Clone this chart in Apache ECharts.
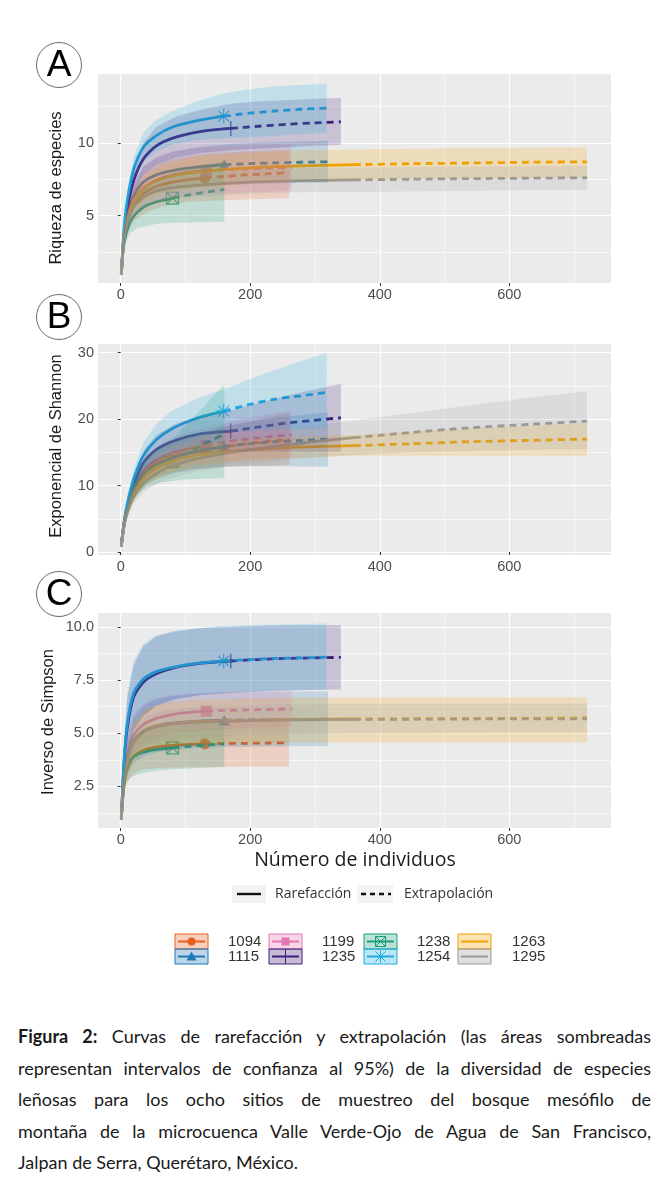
<!DOCTYPE html>
<html>
<head>
<meta charset="utf-8">
<script src="https://cdn.jsdelivr.net/npm/echarts/dist/echarts.min.js"></script>
<style>
html,body{margin:0;padding:0;background:#fff;}
#chart{position:absolute;left:0;top:0;width:669px;height:1000px;}
#caption{position:absolute;left:18px;top:1021px;width:633px;font-family:Lato,'Open Sans',sans-serif;font-size:18px;line-height:31.5px;color:#1a1a1a;}
#caption .j{text-align:justify;text-align-last:justify;white-space:nowrap;}
</style>
</head>
<body>
<div id="chart"></div>
<div id="caption">
<div class="j"><b>Figura 2:</b> Curvas de rarefacción y extrapolación (las áreas sombreadas</div>
<div class="j">representan intervalos de confianza al 95%) de la diversidad de especies</div>
<div class="j">leñosas para los ocho sitios de muestreo del bosque mesófilo de</div>
<div class="j">montaña de la microcuenca Valle Verde-Ojo de Agua de San Francisco,</div>
<div>Jalpan de Serra, Querétaro, México.</div>
</div>
<script>
// ---------------- data ----------------
const sites = ['1094','1115','1199','1235','1238','1254','1263','1295'];
const siteColors = ['#E8601C','#1F78B4','#E377B1','#3F1F7A','#1B9E77','#1FABE0','#F2A000','#999999'];
const observedN = [130,160,132,170,80,159,360,360];

// sample sizes (number of individuals) for each site
const x1094 = [1,5,10,20,35,55,80,105,130,160,195,230,260];
const x1115 = [1,5,10,20,35,55,80,120,160,200,240,280,320];
const x1199 = [1,5,10,20,35,55,80,105,132,165,198,231,264];
const x1235 = [1,5,10,20,35,55,85,125,170,212,255,297,340];
const x1238 = [1,4,8,15,25,40,60,80,100,120,140,160];
const x1254 = [1,5,10,20,35,55,80,120,159,199,238,278,318];
const x1263 = [1,5,10,20,40,70,120,200,280,360,450,540,630,720];
const x1295 = [1,5,10,20,40,70,120,200,280,360,450,540,630,720];

// A: Riqueza de especies
const rich1094 = [1,3.3,4.5,5.7,6.5,7.0,7.3,7.48,7.6,7.7,7.8,7.88,7.95];
const richLo1094 = [1,2.9,3.8,4.6,5.1,5.5,5.8,5.95,6.0,6.05,6.1,6.15,6.2];
const richHi1094 = [1,3.7,5.2,6.8,7.9,8.5,8.9,9.1,9.25,9.35,9.42,9.48,9.52];
const rich1115 = [1,3.4,4.8,6.3,7.3,7.8,8.1,8.35,8.5,8.58,8.63,8.67,8.7];
const richLo1115 = [1,3.0,4.2,5.4,6.2,6.6,6.8,7.0,7.1,7.15,7.2,7.25,7.25];
const richHi1115 = [1,3.8,5.4,7.2,8.4,9.0,9.4,9.7,9.9,10.0,10.05,10.1,10.15];
const rich1199 = [1,3.4,4.7,6.0,6.9,7.45,7.8,7.98,8.1,8.17,8.22,8.27,8.3];
const richLo1199 = [1,3.0,4.0,4.9,5.5,5.9,6.2,6.35,6.5,6.55,6.6,6.65,6.7];
const richHi1199 = [1,3.8,5.4,7.1,8.3,9.0,9.4,9.6,9.7,9.78,9.83,9.88,9.9];
const rich1235 = [1,3.7,5.4,7.4,8.9,9.8,10.4,10.8,11.0,11.15,11.28,11.38,11.45];
const richLo1235 = [1,3.3,4.8,6.5,7.8,8.5,9.0,9.3,9.5,9.6,9.7,9.8,9.85];
const richHi1235 = [1,4.1,6.0,8.3,10.0,11.1,11.8,12.3,12.7,12.85,12.95,13.05,13.1];
const rich1238 = [1,2.7,3.7,4.6,5.2,5.7,6.0,6.2,6.38,6.52,6.66,6.8];
const richLo1238 = [1,2.4,3.2,3.8,4.1,4.3,4.45,4.5,4.52,4.54,4.55,4.56];
const richHi1238 = [1,3.1,4.3,5.5,6.4,7.1,7.6,7.9,8.15,8.35,8.55,8.75];
const rich1254 = [1,4.0,6.0,8.2,9.7,10.5,11.1,11.55,11.85,12.05,12.2,12.32,12.4];
const richLo1254 = [1,3.6,5.4,7.4,8.7,9.4,9.9,10.2,10.3,10.4,10.5,10.6,10.7];
const richHi1254 = [1,4.4,6.6,9.0,10.7,11.6,12.2,12.9,13.4,13.7,13.9,14.0,14.1];
const rich1263 = [1,3.4,4.7,6.0,7.0,7.6,8.0,8.28,8.42,8.5,8.57,8.62,8.67,8.7];
const richLo1263 = [1,3.1,4.2,5.3,6.1,6.6,6.9,7.2,7.35,7.45,7.5,7.55,7.6,7.65];
const richHi1263 = [1,3.7,5.2,6.7,7.9,8.6,9.1,9.35,9.5,9.55,9.6,9.65,9.68,9.7];
const rich1295 = [1,3.3,4.5,5.6,6.4,6.85,7.1,7.3,7.4,7.45,7.5,7.54,7.57,7.6];
const richLo1295 = [1,3.0,4.1,5.0,5.7,6.1,6.3,6.5,6.6,6.62,6.66,6.7,6.74,6.78];
const richHi1295 = [1,3.6,4.9,6.2,7.1,7.6,7.9,8.1,8.25,8.3,8.35,8.38,8.4,8.42];

// B: Exponencial de Shannon
const shan1094 = [1,4.0,6.4,9.3,11.8,13.3,14.3,14.9,15.3,15.8,16.3,16.7,16.9];
const shanLo1094 = [1,3.6,5.7,8.1,10.1,11.3,12.0,12.4,12.6,12.8,12.9,13.0,13.1];
const shanHi1094 = [1,4.4,7.1,10.5,13.5,15.3,16.6,17.4,18.0,18.8,19.6,20.3,20.9];
const shan1115 = [1,4.0,6.3,9.1,11.5,13.0,14.1,15.2,15.9,16.3,16.6,16.8,17.0];
const shanLo1115 = [1,3.6,5.6,7.9,9.8,11.0,11.8,12.5,12.9,12.9,12.9,12.85,12.85];
const shanHi1115 = [1,4.4,7.0,10.3,13.2,15.0,16.4,17.9,18.9,19.6,20.2,20.6,21.0];
const shan1199 = [1,4.1,6.6,9.6,12.2,13.8,14.9,15.5,16.0,16.6,17.0,17.35,17.6];
const shanLo1199 = [1,3.7,5.9,8.4,10.5,11.8,12.6,13.0,13.3,13.6,13.9,14.1,14.2];
const shanHi1199 = [1,4.5,7.3,10.8,13.9,15.8,17.2,18.0,18.7,19.5,20.2,20.8,21.2];
const shan1235 = [1,4.2,6.8,10.1,13.4,15.4,16.8,17.8,18.2,18.8,19.4,19.8,20.2];
const shanLo1235 = [1,3.8,6.0,8.8,11.6,13.2,14.3,14.9,15.1,15.1,15.1,15.1,15.1];
const shanHi1235 = [1,4.6,7.6,11.4,15.2,17.6,19.3,20.6,21.3,22.4,23.5,24.4,25.3];
const shan1238 = [1,3.3,5.5,8.0,10.3,12.0,13.0,13.6,14.7,15.8,16.8,17.7];
const shanLo1238 = [1,3.0,4.9,6.9,8.6,9.8,10.4,10.7,10.9,11.0,11.05,11.1];
const shanHi1238 = [1,3.6,6.1,9.2,12.2,14.5,16.0,17.0,19.0,21.0,23.1,25.2];
const shan1254 = [1,4.3,7.2,11.0,14.5,16.9,18.6,20.2,21.2,22.2,23.0,23.5,24.0];
const shanLo1254 = [1,3.9,6.4,9.6,12.5,14.5,15.9,17.2,17.9,18.2,18.4,18.5,18.6];
const shanHi1254 = [1,4.7,8.0,12.4,16.5,19.3,21.3,23.2,24.5,26.0,27.4,28.7,30.0];
const shan1263 = [1,3.9,6.1,8.7,11.5,13.3,14.6,15.4,15.8,16.0,16.3,16.6,16.8,17.0];
const shanLo1263 = [1,3.6,5.5,7.7,10.2,11.8,13.0,13.8,14.2,14.5,14.5,14.5,14.5,14.5];
const shanHi1263 = [1,4.2,6.7,9.7,12.8,14.8,16.2,17.0,17.4,17.6,18.1,18.6,19.0,19.4];
const shan1295 = [1,3.8,5.8,8.3,10.8,12.6,14.1,15.4,16.4,17.2,18.0,18.7,19.2,19.7];
const shanLo1295 = [1,3.5,5.2,7.3,9.4,10.9,12.2,13.3,14.1,14.6,15.0,15.2,15.4,15.5];
const shanHi1295 = [1,4.1,6.4,9.3,12.2,14.3,16.0,17.5,18.7,19.8,20.9,22.1,23.2,24.2];

// C: Inverso de Simpson
const simp1094 = [1,2.5,3.3,3.9,4.2,4.35,4.43,4.47,4.5,4.52,4.53,4.54,4.55];
const simpLo1094 = [1,2.1,2.7,3.1,3.3,3.35,3.38,3.4,3.4,3.41,3.42,3.42,3.42];
const simpHi1094 = [1,2.9,4.0,4.8,5.2,5.4,5.5,5.55,5.6,5.62,5.64,5.65,5.66];
const simp1115 = [1,2.7,3.7,4.6,5.1,5.35,5.48,5.57,5.62,5.63,5.64,5.65,5.66];
const simpLo1115 = [1,2.3,3.0,3.6,3.9,4.1,4.2,4.3,4.35,4.37,4.38,4.39,4.4];
const simpHi1115 = [1,3.2,4.5,5.7,6.3,6.6,6.75,6.85,6.9,6.93,6.95,6.97,6.98];
const simp1199 = [1,2.8,3.9,4.9,5.4,5.7,5.88,5.98,6.04,6.08,6.1,6.12,6.14];
const simpLo1199 = [1,2.4,3.2,4.0,4.5,4.8,5.0,5.1,5.15,5.2,5.25,5.28,5.3];
const simpHi1199 = [1,3.3,4.8,5.9,6.4,6.65,6.8,6.87,6.92,6.95,6.97,6.98,7.0];
const simp1235 = [1,3.5,5.2,6.7,7.4,7.8,8.1,8.3,8.4,8.47,8.52,8.55,8.57];
const simpLo1235 = [1,2.6,3.8,5.1,5.8,6.3,6.6,6.8,6.9,6.95,7.0,7.03,7.06];
const simpHi1235 = [1,4.3,6.6,8.2,9.1,9.55,9.8,9.95,10.0,10.05,10.07,10.08,10.1];
const simp1238 = [1,2.4,3.2,3.75,4.0,4.15,4.25,4.31,4.37,4.42,4.46,4.5];
const simpLo1238 = [1,2.0,2.6,2.9,3.05,3.15,3.25,3.3,3.33,3.36,3.39,3.41];
const simpHi1238 = [1,2.8,3.9,4.6,5.0,5.2,5.3,5.38,5.45,5.5,5.55,5.6];
const simp1254 = [1,3.6,5.4,6.9,7.55,7.9,8.1,8.3,8.4,8.47,8.52,8.55,8.58];
const simpLo1254 = [1,2.7,3.9,5.2,5.9,6.3,6.6,6.8,6.9,6.95,7.0,7.03,7.06];
const simpHi1254 = [1,4.4,6.8,8.4,9.2,9.6,9.8,9.95,10.05,10.1,10.12,10.14,10.16];
const simp1263 = [1,2.7,3.7,4.6,5.2,5.42,5.55,5.62,5.65,5.67,5.68,5.69,5.7,5.72];
const simpLo1263 = [1,2.4,3.1,3.8,4.2,4.4,4.5,4.55,4.56,4.57,4.57,4.57,4.57,4.57];
const simpHi1263 = [1,3.0,4.3,5.5,6.2,6.45,6.58,6.64,6.67,6.68,6.69,6.7,6.7,6.7];
const simp1295 = [1,2.7,3.7,4.6,5.15,5.4,5.52,5.6,5.63,5.65,5.66,5.67,5.68,5.68];
const simpLo1295 = [1,2.5,3.3,4.1,4.5,4.7,4.8,4.9,4.95,4.98,5.0,5.01,5.02,5.02];
const simpHi1295 = [1,2.9,4.1,5.1,5.8,6.1,6.25,6.32,6.36,6.38,6.39,6.4,6.4,6.4];

// axis ticks
const xMajor = [0,200,400,600];
const xMinor = [100,300,500,700];
const yMajorA = [5,10], yMinorA = [2.5,7.5,12.5];
const yMajorB = [0,10,20,30], yMinorB = [5,15,25];
const yMajorC = [2.5,5,7.5,10], yMinorC = [1.25,3.75,6.25,8.75];
const panelTitles = ['Riqueza de especies','Exponencial de Shannon','Inverso de Simpson'];
const panelLetters = ['A','B','C'];
const xTitle = 'Número de individuos';
const lineTypeLabels = ['Rarefacción','Extrapolación'];

// ---------------- assemble ----------------
const xs = [x1094,x1115,x1199,x1235,x1238,x1254,x1263,x1295];
const panelData = [
  {mean:[rich1094,rich1115,rich1199,rich1235,rich1238,rich1254,rich1263,rich1295],
   lo:[richLo1094,richLo1115,richLo1199,richLo1235,richLo1238,richLo1254,richLo1263,richLo1295],
   hi:[richHi1094,richHi1115,richHi1199,richHi1235,richHi1238,richHi1254,richHi1263,richHi1295]},
  {mean:[shan1094,shan1115,shan1199,shan1235,shan1238,shan1254,shan1263,shan1295],
   lo:[shanLo1094,shanLo1115,shanLo1199,shanLo1235,shanLo1238,shanLo1254,shanLo1263,shanLo1295],
   hi:[shanHi1094,shanHi1115,shanHi1199,shanHi1235,shanHi1238,shanHi1254,shanHi1263,shanHi1295]},
  {mean:[simp1094,simp1115,simp1199,simp1235,simp1238,simp1254,simp1263,simp1295],
   lo:[simpLo1094,simpLo1115,simpLo1199,simpLo1235,simpLo1238,simpLo1254,simpLo1263,simpLo1295],
   hi:[simpHi1094,simpHi1115,simpHi1199,simpHi1235,simpHi1238,simpHi1254,simpHi1263,simpHi1295]}
];

const grids = [
  {left:98, top:74, width:513, height:209, ymin:0.35, ymax:14.75, major:yMajorA, minor:yMinorA, fmt:v=>String(v)},
  {left:98, top:344, width:513, height:211, ymin:-0.45, ymax:31.3, major:yMajorB, minor:yMinorB, fmt:v=>String(v)},
  {left:98, top:613, width:513, height:215, ymin:0.54, ymax:10.66, major:yMajorC, minor:yMinorC, fmt:v=>v.toFixed(1)}
];

const plusPath = 'path://M10,0L10,20M0,10L20,10';
const boxXPath = 'path://M0,0L20,0L20,20L0,20Z M0,0L20,20 M20,0L0,20';
const starPath = 'path://M10,0L10,20 M0,10L20,10 M3,3L17,17 M17,3L3,17';
const symbols = ['circle','triangle','rect',plusPath,boxXPath,starPath,'none','none'];
const symbolSizes = [11,11,11,15,12,15,0,0];

function rgba(hex, a) {
  const n = parseInt(hex.slice(1), 16);
  return 'rgba(' + (n >> 16 & 255) + ',' + (n >> 8 & 255) + ',' + (n & 255) + ',' + a + ')';
}

const FONT = "'Liberation Sans', Arial, sans-serif";
const xAxes = [], yAxes = [], gridOpts = [], series = [];

grids.forEach((g, gi) => {
  gridOpts.push({left:g.left, top:g.top, width:g.width, height:g.height, show:true,
    backgroundColor:'#ebebeb', borderWidth:0, containLabel:false, outerBoundsMode:'none'});
  xAxes.push({type:'value', gridIndex:gi, min:-35, max:757, position:'bottom',
    axisLine:{show:false},
    axisTick:{show:true, length:3, lineStyle:{color:'#333', width:1}, customValues:xMajor},
    axisLabel:{show:true, customValues:xMajor, color:'#4d4d4d', fontSize:14.5, fontFamily:FONT, margin:4},
    splitLine:{show:true, lineStyle:{color:'#ffffff', width:1.2}}, z:0});
  xAxes.push({type:'value', gridIndex:gi, min:-35, max:757, position:'top',
    axisLine:{show:false}, axisLabel:{show:false},
    axisTick:{show:false, customValues:xMinor},
    splitLine:{show:true, lineStyle:{color:'#ffffff', width:0.6}}, z:0});
  yAxes.push({type:'value', gridIndex:gi, min:g.ymin, max:g.ymax, position:'left',
    axisLine:{show:false},
    axisTick:{show:true, length:3, lineStyle:{color:'#333', width:1}, customValues:g.major},
    axisLabel:{show:true, customValues:g.major, formatter:g.fmt, color:'#4d4d4d', fontSize:14.5, fontFamily:FONT, margin:4},
    splitLine:{show:true, lineStyle:{color:'#ffffff', width:1.2}}, z:0});
  yAxes.push({type:'value', gridIndex:gi, min:g.ymin, max:g.ymax, position:'right',
    axisLine:{show:false}, axisLabel:{show:false},
    axisTick:{show:false, customValues:g.minor},
    splitLine:{show:true, lineStyle:{color:'#ffffff', width:0.6}}, z:0});

  const pd = panelData[gi];
  sites.forEach((s, si) => {
    const xv = xs[si], m = pd.mean[si], lo = pd.lo[si], hi = pd.hi[si];
    const k = xv.indexOf(observedN[si]);
    const col = siteColors[si];
    const axisIdx = {xAxisIndex:gi*2, yAxisIndex:gi*2};
    // confidence band
    series.push(Object.assign({
      type:'custom', name:s, z:4, silent:true,
      data: xv.map((x, j) => [x, lo[j], hi[j]]),
      encode:{x:0, y:[1,2]},
      renderItem: function (params, api) {
        if (params.dataIndexInside !== 0) return null;
        const n = params.dataInsideLength;
        const up = [], dn = [];
        for (let j = 0; j < n; j++) {
          const xx = api.value(0, j);
          up.push(api.coord([xx, api.value(2, j)]));
          dn.push(api.coord([xx, api.value(1, j)]));
        }
        return {type:'polygon', shape:{points: up.concat(dn.reverse())},
          style:{fill: rgba(col, 0.2), stroke:'none'}};
      }
    }, axisIdx));
    // rarefaction (solid)
    series.push(Object.assign({
      type:'line', name:s, z:3, silent:true, showSymbol:false, smooth:0.25,
      data: xv.slice(0, k + 1).map((x, j) => [x, m[j]]),
      lineStyle:{color:col, width:2.8, cap:'round'}
    }, axisIdx));
    // extrapolation (dashed)
    series.push(Object.assign({
      type:'line', name:s, z:3, silent:true, showSymbol:false, smooth:0.25,
      data: xv.slice(k).map((x, j) => [x, m[j + k]]),
      lineStyle:{color:col, width:2.8, type:[7,5]}
    }, axisIdx));
    // observed point
    if (symbols[si] !== 'none') {
      const isPath = symbols[si].indexOf('path://') === 0;
      series.push(Object.assign({
        type:'scatter', name:s, z:2, silent:true,
        symbol:symbols[si], symbolSize:symbolSizes[si],
        data:[[xv[k], m[k]]],
        itemStyle: isPath ? {color:'rgba(0,0,0,0)', borderColor:col, borderWidth:1.2} : {color:col}
      }, axisIdx));
    }
  });
});

// ---------------- decorations (titles, panel letters, legend) ----------------
const graphic = [];
const letterPos = [[59,65],[59,317],[59,594]];
letterPos.forEach((p, i) => {
  graphic.push({type:'circle', shape:{cx:p[0], cy:p[1], r:22.5}, style:{fill:'#fff', stroke:'#444', lineWidth:0.8}, z:10});
  graphic.push({type:'text', x:p[0], y:p[1]+1, z:11, style:{text:panelLetters[i], fontSize:37, fontFamily:FONT,
    fill:'#000', align:'center', verticalAlign:'middle', textAlign:'center', textVerticalAlign:'middle'}});
});
const titlePos = [[56,188],[56,446],[48,722]];
titlePos.forEach((p, i) => {
  graphic.push({type:'text', x:p[0], y:p[1], rotation:Math.PI/2, z:10,
    style:{text:panelTitles[i], fontSize:16.5, fontFamily:FONT, fill:'#1a1a1a',
      align:'center', verticalAlign:'middle', textAlign:'center', textVerticalAlign:'middle'}});
});
graphic.push({type:'text', x:355, y:860, z:10, style:{text:xTitle, fontSize:19.5, fontFamily:"'Open Sans', sans-serif",
  fill:'#1a1a1a', align:'center', verticalAlign:'middle', textAlign:'center', textVerticalAlign:'middle'}});

// line type legend
const LFONT = "'Open Sans', sans-serif";
graphic.push({type:'rect', shape:{x:232, y:885, width:34, height:18}, style:{fill:'#f2f2f2'}});
graphic.push({type:'line', shape:{x1:237, y1:894, x2:261, y2:894}, style:{stroke:'#111', lineWidth:2.4}});
graphic.push({type:'text', x:275, y:894, style:{text:lineTypeLabels[0], fontSize:14, fontFamily:LFONT, fill:'#333',
  verticalAlign:'middle', textVerticalAlign:'middle'}});
graphic.push({type:'rect', shape:{x:357, y:885, width:36, height:18}, style:{fill:'#f2f2f2'}});
graphic.push({type:'line', shape:{x1:361, y1:894, x2:391, y2:894}, style:{stroke:'#111', lineWidth:2.4, lineDash:[5,4]}});
graphic.push({type:'text', x:404, y:894, style:{text:lineTypeLabels[1], fontSize:14, fontFamily:LFONT, fill:'#333',
  verticalAlign:'middle', textVerticalAlign:'middle'}});

// site legend
const colX = [175, 269, 364, 458], textX = [228, 322, 417, 512], rowY = [934, 949];
sites.forEach((s, si) => {
  const c = Math.floor(si / 2), r = si % 2;
  const bx = colX[c], by = rowY[r], bw = 33, bh = 15;
  const col = siteColors[si];
  const cx = bx + bw / 2, cy = by + bh / 2;
  graphic.push({type:'rect', shape:{x:bx, y:by, width:bw, height:bh}, style:{fill:rgba(col, 0.3), stroke:col, lineWidth:1}});
  graphic.push({type:'line', shape:{x1:bx+3, y1:cy, x2:bx+bw-3, y2:cy}, style:{stroke:col, lineWidth:2}});
  const st = {stroke:col, lineWidth:1, fill:'none'};
  if (si === 0) graphic.push({type:'circle', shape:{cx:cx, cy:cy, r:4}, style:{fill:col}});
  if (si === 1) graphic.push({type:'polygon', shape:{points:[[cx, cy-5],[cx+5, cy+4],[cx-5, cy+4]]}, style:{fill:col}});
  if (si === 2) graphic.push({type:'rect', shape:{x:cx-4, y:cy-4, width:8, height:8}, style:{fill:col}});
  if (si === 3) graphic.push({type:'line', shape:{x1:cx, y1:by, x2:cx, y2:by+bh}, style:st});
  if (si === 4) {
    graphic.push({type:'rect', shape:{x:cx-5, y:cy-5, width:10, height:10}, style:st});
    graphic.push({type:'line', shape:{x1:cx-5, y1:cy-5, x2:cx+5, y2:cy+5}, style:st});
    graphic.push({type:'line', shape:{x1:cx+5, y1:cy-5, x2:cx-5, y2:cy+5}, style:st});
  }
  if (si === 5) {
    graphic.push({type:'line', shape:{x1:cx, y1:cy-6, x2:cx, y2:cy+6}, style:st});
    graphic.push({type:'line', shape:{x1:cx-5, y1:cy-5, x2:cx+5, y2:cy+5}, style:st});
    graphic.push({type:'line', shape:{x1:cx+5, y1:cy-5, x2:cx-5, y2:cy+5}, style:st});
  }
  graphic.push({type:'text', x:textX[c], y:cy, style:{text:s, fontSize:15, fontFamily:FONT, fill:'#333',
    verticalAlign:'middle', textVerticalAlign:'middle'}});
});

const chart = echarts.init(document.getElementById('chart'), null, {renderer:'canvas'});
chart.setOption({
  animation:false,
  backgroundColor:'#ffffff',
  grid:gridOpts,
  xAxis:xAxes,
  yAxis:yAxes,
  series:series,
  graphic:graphic
});
</script>
</body>
</html>
